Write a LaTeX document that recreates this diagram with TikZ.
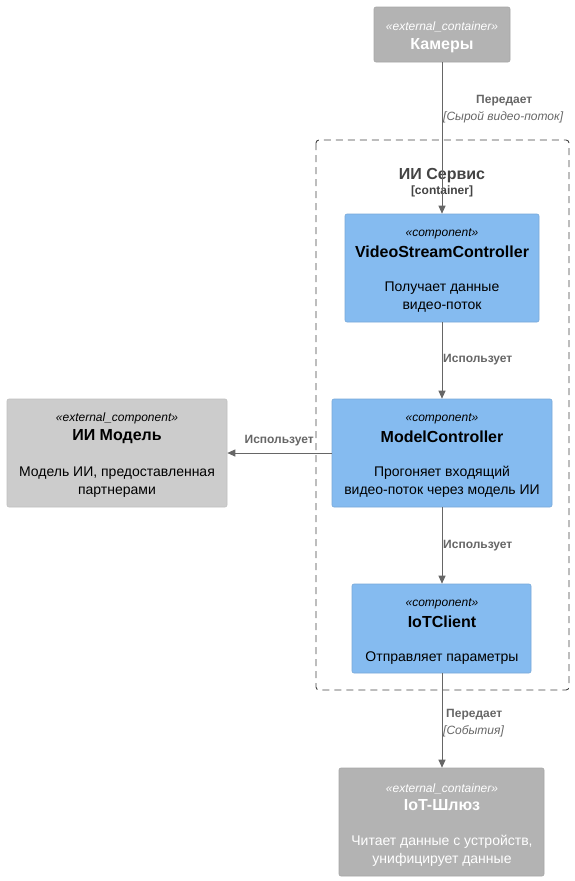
\documentclass[tikz,border=0pt]{standalone}
\usepackage{fontspec}
\setmainfont{Liberation Sans}
\usetikzlibrary{arrows.meta}
\definecolor{extc}{HTML}{B3B3B3}
\definecolor{extcb}{HTML}{A6A6A6}
\definecolor{extcomp}{HTML}{CCCCCC}
\definecolor{extcompb}{HTML}{BFBFBF}
\definecolor{comp}{HTML}{85BBF0}
\definecolor{compb}{HTML}{78A8D8}
\definecolor{relc}{HTML}{666666}
\definecolor{bndc}{HTML}{444444}
\tikzset{
  box/.style={draw, rounded corners=2pt, line width=0.6pt, inner sep=0pt},
  stereo/.style={font=\fontsize{12}{14}\selectfont\itshape, yshift=-1.5pt},
  ttl/.style={font=\fontsize{16}{18}\selectfont\bfseries, yshift=-1.5pt},
  desc/.style={font=\fontsize{14}{18}\selectfont, align=center, yshift=-1.5pt},
  rel/.style={draw=relc, line width=1pt, -{Triangle[length=8pt,width=7pt]}},
  rlab/.style={text=relc, font=\fontsize{12}{14}\selectfont\bfseries, inner sep=0pt},
  rtech/.style={text=relc, font=\fontsize{12}{14}\selectfont\itshape, inner sep=0pt},
}
\begin{document}
\begin{tikzpicture}[x=1pt,y=-1pt]
\useasboundingbox (0,0) rectangle (574,881);
% boundary
\draw[bndc, dashed, dash pattern=on 7pt off 5pt, line width=0.9pt, rounded corners=3pt] (316,140) rectangle (569,690);
\node[text=bndc, font=\fontsize{16}{18}\selectfont\bfseries] (bt) at (442,175.5) {ИИ Сервис};
\node[text=bndc, font=\fontsize{12}{14}\selectfont\bfseries] (bc) at (442,191) {[container]};

% Камеры
\node[box, fill=extc, draw=extcb, minimum width=136pt, minimum height=55pt] (cam) at (442,34.5) {};
\node[stereo, text=white] (cams) at (442,25) {«external\_container»};
\node[ttl, text=white] (camt) at (442,44) {Камеры};

% VideoStreamController
\node[box, fill=comp, draw=compb, minimum width=194pt, minimum height=108pt] (vsc) at (442,268) {};
\node[stereo] (vscs) at (442,232) {«component»};
\node[ttl] (vsct) at (442,250) {VideoStreamController};
\node[desc] (vscd) at (442,295.5) {Получает данные\\видео-поток};

% ModelController
\node[box, fill=comp, draw=compb, minimum width=220pt, minimum height=108pt] (mc) at (442,453) {};
\node[stereo] (mcs) at (442,417) {«component»};
\node[ttl] (mct) at (442,435) {ModelController};
\node[desc] (mcd) at (442,480.5) {Прогоняет входящий\\видео-поток через модель ИИ};

% IoTClient
\node[box, fill=comp, draw=compb, minimum width=179pt, minimum height=89pt] (iot) at (441.5,628.5) {};
\node[stereo] (iots) at (442,602) {«component»};
\node[ttl] (iott) at (442,620) {IoTClient};
\node[desc] (iotd) at (442,657) {Отправляет параметры};

% ИИ Модель
\node[box, fill=extcomp, draw=extcompb, minimum width=220pt, minimum height=108pt] (aim) at (117,453) {};
\node[stereo] (aims) at (117,417) {«external\_component»};
\node[ttl] (aimt) at (117,435) {ИИ Модель};
\node[desc] (aimd) at (117,480.5) {Модель ИИ, предоставленная\\партнерами};

% IoT-Шлюз
\node[box, fill=extc, draw=extcb, minimum width=205pt, minimum height=108pt] (gw) at (441.5,822) {};
\node[stereo, text=white] (gws) at (442,787) {«external\_container»};
\node[ttl, text=white] (gwt) at (442,804) {IoT-Шлюз};
\node[desc, text=white] (gwd) at (442,849.5) {Читает данные с устройств,\\унифицирует данные};

% relations
\draw[rel] (cam.south -| 442,0) -- (vsc.north -| 442,0);
\node[rlab, anchor=west] (l1) at (476,101) {Передает};
\node[rtech, anchor=west] (l1t) at (443,117) {[Сырой видео-поток]};

\draw[rel] (vsc.south -| 442,0) -- (mc.north -| 442,0);
\node[rlab, anchor=west] (l2) at (443,360) {Использует};

\draw[rel] (mc.west |- 0,453) -- (aim.east |- 0,453);
\node[rlab, anchor=east] (l3) at (314,441) {Использует};

\draw[rel] (mc.south -| 442,0) -- (iot.north -| 442,0);
\node[rlab, anchor=west] (l4) at (443,546) {Использует};

\draw[rel] (iot.south -| 442,0) -- (gw.north -| 442,0);
\node[rlab, anchor=west] (l5) at (446,715) {Передает};
\node[rtech, anchor=west] (l5t) at (443,731) {[События]};
\end{tikzpicture}
\end{document}
